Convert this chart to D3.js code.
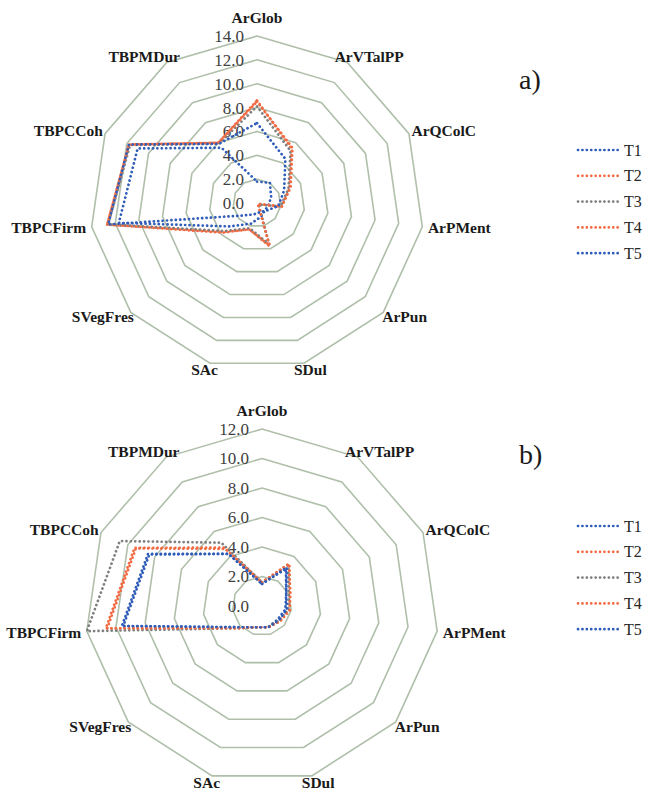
<!DOCTYPE html>
<html lang="en">
<head>
    <meta charset="utf-8">
    <title>Radar T1-T5</title>
    <script type="text/javascript" src="https://d3js.org/d3.v7.min.js"></script>
    <style type="text/css">
        body { margin: 0; background: #ffffff; }
        .axis-label { font-family: "Liberation Serif", "Times New Roman", serif; font-weight: bold; font-size: 15.5px; fill: #1a1a1a; }
        .tick-label { font-family: "Liberation Serif", "Times New Roman", serif; font-size: 17px; fill: #404040; }
        .legend-label { font-family: "Liberation Serif", "Times New Roman", serif; font-size: 16px; fill: #262626; }
        .panel-label { font-family: "Liberation Serif", "Times New Roman", serif; font-size: 28px; fill: #1a1a1a; }
    </style>
</head>
<body>
<div id="chart"></div>
<script type="text/javascript">

    // categories (clockwise from top)
    const axes = ["ArGlob", "ArVTalPP", "ArQColC", "ArPMent", "ArPun", "SDul", "SAc",
        "SVegFres", "TBPCFirm", "TBPCCoh", "TBPMDur"];
    const seriesNames = ["T1", "T2", "T3", "T4", "T5"];
    const colors = ["#2f5cb8", "#f26b43", "#7f7f7f", "#f26b43", "#2f5cb8"];

    // panel a)
    const ticksA = [0, 2, 4, 6, 8, 10, 12, 14];
    const aT1 = [1.8, 2.0, 1.3, 1.0, 0.9, 1.2, 1.8, 3.0, 11.7, 11.0, 5.5];
    const aT2 = [8.6, 5.4, 3.0, 2.1, 0.1, 3.8, 2.3, 3.7, 12.7, 11.8, 6.0];
    const aT3 = [8.1, 5.2, 2.9, 2.0, 0.2, 3.6, 2.2, 3.6, 12.6, 11.7, 5.9];
    const aT4 = [8.5, 5.5, 3.1, 2.1, 0.1, 3.7, 2.3, 3.8, 12.7, 11.8, 6.0];
    const aT5 = [6.7, 4.4, 2.5, 1.8, 1.0, 0.8, 1.0, 1.6, 12.6, 11.8, 5.9];

    // panel b)
    const ticksB = [0, 2, 4, 6, 8, 10, 12];
    const bT1 = [1.5, 3.0, 1.8, 1.6, 1.4, 1.5, 1.5, 2.2, 9.6, 8.5, 4.2];
    const bT2 = [1.6, 3.4, 2.1, 1.9, 1.6, 1.5, 1.5, 2.3, 10.7, 9.5, 4.7];
    const bT3 = [1.6, 3.3, 2.0, 1.8, 1.5, 1.5, 1.5, 2.3, 12.0, 10.6, 5.1];
    const bT4 = [1.6, 3.4, 2.1, 1.9, 1.6, 1.5, 1.5, 2.3, 10.6, 9.4, 4.6];
    const bT5 = [1.5, 3.1, 1.8, 1.7, 1.5, 1.5, 1.5, 2.2, 9.5, 8.4, 4.2];

    const width = 646, height = 793;

    const svg = d3.select("#chart")
        .append("svg")
        .attr("width", width)
        .attr("height", height);

    const angle = d3.scaleLinear()
        .domain([0, axes.length])
        .range([0, 2 * Math.PI]);

    function dir(i) {
        const a = angle(i);
        return [Math.sin(a), -Math.cos(a)];
    }

    function drawRadar(cfg) {
        const g = svg.append("g")
            .attr("transform", `translate(${cfg.cx}, ${cfg.cy})`);

        const r = d3.scaleLinear()
            .domain([0, d3.max(cfg.ticks)])
            .range([0, cfg.radius]);

        const ring = d3.lineRadial()
            .angle(function (d, i) { return angle(i); })
            .radius(function (d) { return r(d); })
            .curve(d3.curveLinearClosed);

        // grid rings
        g.selectAll(".ring")
            .data(cfg.ticks.filter(function (t) { return t > 0; }))
            .enter()
            .append("path")
            .attr("class", "ring")
            .attr("d", function (t) { return ring(axes.map(function () { return t; })); })
            .attr("fill", "none")
            .attr("stroke", "#afbfaa")
            .attr("stroke-width", 1.6);

        // value labels along the first axis
        g.selectAll(".tick-label")
            .data(cfg.ticks)
            .enter()
            .append("text")
            .attr("class", "tick-label")
            .attr("x", -13)
            .attr("y", function (t) { return -r(t); })
            .attr("dy", "0.35em")
            .attr("text-anchor", "end")
            .text(function (t) { return t.toFixed(1); });

        // series
        const series = [cfg.s1, cfg.s2, cfg.s3, cfg.s4, cfg.s5];
        g.selectAll(".series")
            .data(series)
            .enter()
            .append("path")
            .attr("class", "series")
            .attr("d", function (d) { return ring(d); })
            .attr("fill", "none")
            .attr("stroke", function (d, i) { return colors[i]; })
            .attr("stroke-width", 2.7)
            .attr("stroke-linecap", "round")
            .attr("stroke-dasharray", "0.1 4.3");

        // category labels
        g.selectAll(".axis-label")
            .data(axes)
            .enter()
            .append("text")
            .attr("class", "axis-label")
            .attr("text-anchor", "middle")
            .attr("dy", "0.35em")
            .text(function (d) { return d; })
            .each(function (d, i) {
                const w = this.getComputedTextLength();
                const v = dir(i);
                const R = cfg.radius;
                const dy = v[1] * (Math.abs(v[1]) > 0.99 ? 18 : 7);
                d3.select(this)
                    .attr("x", v[0] * R + v[0] * (w / 2 + 6))
                    .attr("y", v[1] * R + dy);
            });

        // legend
        const leg = svg.append("g")
            .attr("transform", `translate(578, ${cfg.legendTop})`);
        const item = leg.selectAll(".item")
            .data(seriesNames)
            .enter()
            .append("g")
            .attr("transform", function (d, i) { return `translate(0, ${i * 25.8})`; });
        item.append("line")
            .attr("x1", 0).attr("x2", 40)
            .attr("y1", 0).attr("y2", 0)
            .attr("stroke", function (d, i) { return colors[i]; })
            .attr("stroke-width", 2.7)
            .attr("stroke-linecap", "round")
            .attr("stroke-dasharray", "0.1 4.3");
        item.append("text")
            .attr("class", "legend-label")
            .attr("x", 46)
            .attr("dy", "0.35em")
            .text(function (d) { return d; });

        svg.append("text")
            .attr("class", "panel-label")
            .attr("x", 519)
            .attr("y", cfg.panelY)
            .text(cfg.panel);
    }

    drawRadar({ cx: 257, cy: 203, radius: 167, ticks: ticksA,
        s1: aT1, s2: aT2, s3: aT3, s4: aT4, s5: aT5,
        legendTop: 150, panel: "a)", panelY: 89 });

    drawRadar({ cx: 262, cy: 606, radius: 177, ticks: ticksB,
        s1: bT1, s2: bT2, s3: bT3, s4: bT4, s5: bT5,
        legendTop: 526, panel: "b)", panelY: 464 });

</script>
</body>
</html>
